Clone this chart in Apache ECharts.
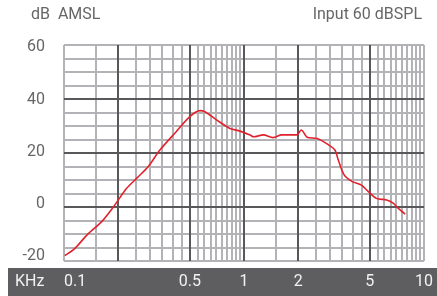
<!DOCTYPE html>
<html>
<head>
<meta charset="utf-8">
<script src="https://cdn.jsdelivr.net/npm/echarts@6/dist/echarts.min.js"></script>
<style>
  html, body { margin: 0; padding: 0; background: #fff; }
  #chart { width: 437px; height: 296px; }
</style>
</head>
<body>
<div id="chart"></div>
<script>
// frequency response, kHz vs dB
const freqKHz = [0.101, 0.115, 0.134, 0.162, 0.188, 0.223, 0.253, 0.294, 0.341, 0.42, 0.5, 0.57, 0.606,
  0.706, 0.836, 0.95, 1.08, 1.13, 1.28, 1.45, 1.62, 1.96, 2.08, 2.26, 2.55, 2.95, 3.2, 3.34, 3.6,
  4.0, 4.49, 4.91, 5.44, 6.2, 6.74, 7.2, 7.86];
const levelDB = [-18, -15.3, -10.4, -5.4, 0, 6.9, 10.6, 15, 21.1, 27.9, 33.5, 35.7, 35.3,
  32.2, 29.1, 28.1, 26.7, 26, 26.7, 25.7, 26.7, 26.7, 28.5, 25.7, 25.4, 23, 21.1, 17.4, 11.9,
  9.4, 8.1, 5.7, 3.2, 2.6, 1.4, -0.5, -2.6];

const xTickValues = [0.1, 0.5, 1, 2, 5, 10];
const xTickLabels = ['0.1', '0.5', '1', '2', '5', '10'];
const yTicks = [-20, 0, 20, 40, 60];

// grid lines
const darkX = [0.2, 0.5, 1, 2, 5];
const darkY = [0, 20, 40];
const lightX = [];
for (let k = 2; k <= 20; k++) lightX.push(k * 5 / 100);
for (let k = 3; k <= 20; k++) lightX.push(k * 5 / 10);
const lightY = [];
for (let v = -20; v <= 60; v += 5) lightY.push(v);

const LIGHT = '#b3b3b7';
const DARK = '#58585a';
const FONT = 'Roboto';

const gridLines = [];
lightX.forEach(v => gridLines.push({ xAxis: v, lineStyle: { color: LIGHT, width: 2, type: 'solid' } }));
lightY.forEach(v => gridLines.push({ yAxis: v, lineStyle: { color: LIGHT, width: 2, type: 'solid' } }));
darkX.forEach(v => gridLines.push({ xAxis: v, lineStyle: { color: DARK, width: 2, type: 'solid' } }));
darkY.forEach(v => gridLines.push({ yAxis: v, lineStyle: { color: DARK, width: 2, type: 'solid' } }));

// y labels sit a little off their lines (shift up toward the bottom)
const yShift = [5, 3, 1, -1, -2];
const yRich = {};
yTicks.forEach((t, i) => {
  const s = yShift[i];
  yRich['y' + i] = {
    color: '#666666', fontFamily: FONT, fontSize: 16,
    padding: s > 0 ? [0, 0, 2 * s, 0] : [-2 * s, 0, 0, 0]
  };
});

const chart = echarts.init(document.getElementById('chart'), null, { renderer: 'canvas' });

chart.setOption({
  animation: false,
  grid: { left: 64, right: 13, top: 45, bottom: 35 },
  graphic: [
    { type: 'rect', z: -10, shape: { x: 8, y: 268, width: 429, height: 28 }, style: { fill: '#5e5e60' } },
    { type: 'text', left: 15, top: 274, style: { text: 'KHz', fill: '#f2f2f2', font: '16px ' + FONT } },
    { type: 'text', left: 31, top: 7, style: { text: 'dB  AMSL', fill: '#666666', font: '16px ' + FONT } },
    { type: 'text', right: 15, top: 7, style: { text: 'Input 60 dBSPL', fill: '#666666', font: '16px ' + FONT } }
  ],
  xAxis: {
    type: 'log',
    logBase: 10,
    min: 0.1,
    max: 10,
    axisLine: { show: false },
    axisTick: { show: false },
    splitLine: { show: false },
    axisLabel: {
      customValues: xTickValues,
      color: '#f2f2f2',
      fontFamily: FONT,
      fontSize: 16,
      margin: 13,
      alignMinLabel: 'left',
      hideOverlap: false,
      formatter: v => {
        const i = xTickValues.findIndex(t => Math.abs(t - v) < 1e-6);
        return i >= 0 ? xTickLabels[i] : '';
      }
    }
  },
  yAxis: {
    type: 'value',
    min: yTicks[0],
    max: yTicks[yTicks.length - 1],
    interval: 20,
    axisLine: { show: false },
    axisTick: { show: false },
    splitLine: { show: false },
    axisLabel: {
      margin: 19,
      rich: yRich,
      formatter: v => {
        const i = yTicks.indexOf(v);
        return '{y' + i + '|' + v + '}';
      }
    }
  },
  series: [
    {
      type: 'line',
      z: 1,
      silent: true,
      data: [],
      markLine: {
        silent: true,
        animation: false,
        symbol: ['none', 'none'],
        label: { show: false },
        emphasis: { disabled: true },
        data: gridLines
      }
    },
    {
      type: 'line',
      z: 5,
      smooth: 0.3,
      symbol: 'none',
      lineStyle: { color: '#e0222c', width: 1.6 },
      data: freqKHz.map((f, i) => [f, levelDB[i]])
    }
  ]
});
</script>
</body>
</html>
